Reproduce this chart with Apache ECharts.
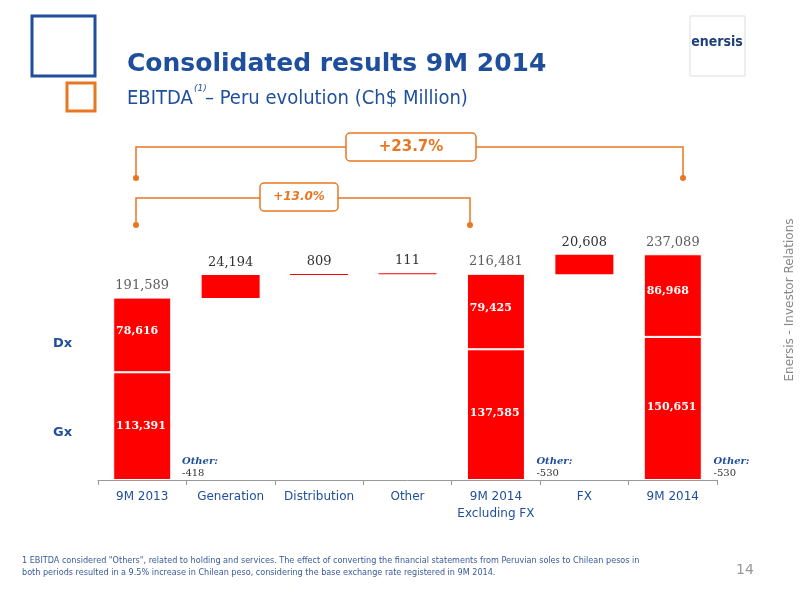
<!DOCTYPE html>
<html><head><meta charset="utf-8">
<script src="https://cdn.jsdelivr.net/npm/echarts@6/dist/echarts.min.js"></script>
<style>html,body{margin:0;padding:0;background:#fff}#c{width:800px;height:600px}</style>
</head><body><div id="c"></div>
<script>
const categories = ['9M 2013','Generation','Distribution','Other','9M 2014\nExcluding FX','FX','9M 2014'];
const gxValues = [113391, null, null, null, 137585, null, 150651];
const dxValues = [78616, null, null, null, 79425, null, 86968];
const totalLabels = ['191,589','24,194','809','111','216,481','20,608','237,089'];
const totals = [191589, null, null, null, 216481, null, 237089];
const deltaBase = [null, 191589, 215783, 216592, null, 216481, null];
const deltaValues = [null, 24194, 809, 111, null, 20608, null];
const otherNotes = [{cat:0, txt:'-418'},{cat:4, txt:'-530'},{cat:6, txt:'-530'}];

const chart = echarts.init(document.getElementById('c'));
const blue = '#1f4e9c', orange = '#e87722', serif = 'DejaVu Serif';
const fmt = v => v.toLocaleString('en-US');
const inLabel = {show:true, position:'inside', color:'#fff', fontFamily:serif, fontWeight:'bold', fontSize:11, formatter:p=>fmt(p.value)};
chart.setOption({
  animation:false,
  grid:{left:98, right:83, top:252, bottom:120},
  xAxis:{type:'category', data:categories, axisTick:{show:true, interval:0, lineStyle:{color:'#999'}},
    axisLine:{lineStyle:{color:'#999'}}, axisLabel:{interval:0, color:blue, fontSize:12, fontFamily:'DejaVu Sans', lineHeight:17}},
  yAxis:{type:'value', min:0, max:240000, show:false, splitLine:{show:false}},
  series:[
    {type:'bar', stack:'a', data:gxValues, barWidth:58, itemStyle:{color:'#ff0000', borderColor:'#fff', borderWidth:1},
     label:Object.assign({}, inLabel, {position:['5%','45%'], align:'left'})},
    {type:'bar', stack:'a', data:dxValues, itemStyle:{color:'#ff0000', borderColor:'#fff', borderWidth:1},
     label:Object.assign({}, inLabel, {position:['5%','38%'], align:'left'})},
    {type:'bar', stack:'b', data:deltaBase, barWidth:58, barGap:'-100%', itemStyle:{color:'transparent'}, silent:true},
    {type:'bar', stack:'b', data:deltaValues, barMinHeight:1, itemStyle:{color:'#ff0000'},
     label:{show:true, position:'top', distance:6, color:'#333', fontFamily:serif, fontSize:13, formatter:p=>totalLabels[p.dataIndex]}},
    {type:'scatter', data:totals, symbolSize:0,
     label:{show:true, position:'top', distance:6, color:'#333', fontFamily:serif, fontSize:13, formatter:p=>totalLabels[p.dataIndex]}}
  ],
  graphic:[
    {type:'rect', shape:{x:32,y:16,width:63,height:60}, style:{fill:'none', stroke:blue, lineWidth:3}},
    {type:'rect', shape:{x:67,y:83,width:28,height:28}, style:{fill:'none', stroke:orange, lineWidth:3}},
    {type:'text', left:127, top:52, style:{text:'Consolidated results 9M 2014', fill:blue, font:'bold 25px "DejaVu Sans"'}},
    {type:'text', left:127, top:89, style:{text:'EBITDA', fill:blue, font:'20px "DejaVu Sans Condensed", "DejaVu Sans"'}},
    {type:'text', left:194, top:84, style:{text:'(1)', fill:blue, font:'italic 9px "DejaVu Sans"'}},
    {type:'text', left:205, top:89, style:{text:'– Peru evolution (Ch$ Million)', fill:blue, font:'20px "DejaVu Sans Condensed", "DejaVu Sans"'}},
    {type:'rect', shape:{x:690,y:16,width:55,height:60}, style:{fill:'#fff', stroke:'#ddd', lineWidth:1}},
    {type:'text', x:717, y:42, style:{text:'enersis', fill:'#1f3f7a', font:'bold 14px "DejaVu Sans Condensed"', align:'center', verticalAlign:'middle'}},
    {type:'text', x:790, y:300, rotation:Math.PI/2, style:{text:'Enersis - Investor Relations', fill:'#888', font:'12px "DejaVu Sans"', align:'center', verticalAlign:'middle'}},
    {type:'text', left:53, top:337, style:{text:'Dx', fill:blue, font:'bold 13px "DejaVu Sans"'}},
    {type:'text', left:53, top:426, style:{text:'Gx', fill:blue, font:'bold 13px "DejaVu Sans"'}},
    {type:'polyline', shape:{points:[[136,178],[136,147],[683,147],[683,178]]}, style:{stroke:orange, lineWidth:1.5, fill:'none'}},
    {type:'circle', shape:{cx:136,cy:178,r:3}, style:{fill:orange}},
    {type:'circle', shape:{cx:683,cy:178,r:3}, style:{fill:orange}},
    {type:'rect', shape:{x:346,y:133,width:130,height:28,r:4}, style:{fill:'#fff', stroke:orange, lineWidth:1.5}},
    {type:'text', x:411, y:147, style:{text:'+23.7%', fill:orange, font:'bold 15px "DejaVu Sans"', align:'center', verticalAlign:'middle'}},
    {type:'polyline', shape:{points:[[136,225],[136,198],[470,198],[470,225]]}, style:{stroke:orange, lineWidth:1.5, fill:'none'}},
    {type:'circle', shape:{cx:136,cy:225,r:3}, style:{fill:orange}},
    {type:'circle', shape:{cx:470,cy:225,r:3}, style:{fill:orange}},
    {type:'rect', shape:{x:260,y:183,width:78,height:28,r:4}, style:{fill:'#fff', stroke:orange, lineWidth:1.5}},
    {type:'text', x:299, y:197, style:{text:'+13.0%', fill:orange, font:'bold italic 12px "DejaVu Sans"', align:'center', verticalAlign:'middle'}},
    {type:'text', left:22, top:555, style:{text:'1 EBITDA considered "Others", related to holding and services. The effect of converting the financial statements from Peruvian soles to Chilean pesos in\nboth periods resulted in a 9.5% increase in Chilean peso, considering the base exchange rate registered in 9M 2014.', fill:'#3a5a9a', font:'9px "DejaVu Sans Condensed"', lineHeight:12}},
    {type:'text', left:736, top:563, style:{text:'14', fill:'#999', font:'14px "DejaVu Sans"'}}
  ].concat(otherNotes.map(o=>({type:'text', left:182+o.cat*88.6, top:455,
      style:{text:'{a|Other:}\n{b|'+o.txt+'}', rich:{a:{fill:blue, font:'italic bold 10px "DejaVu Serif"'}, b:{fill:'#333', font:'10px "DejaVu Serif"'}}, lineHeight:12}})))
});
</script></body></html>
